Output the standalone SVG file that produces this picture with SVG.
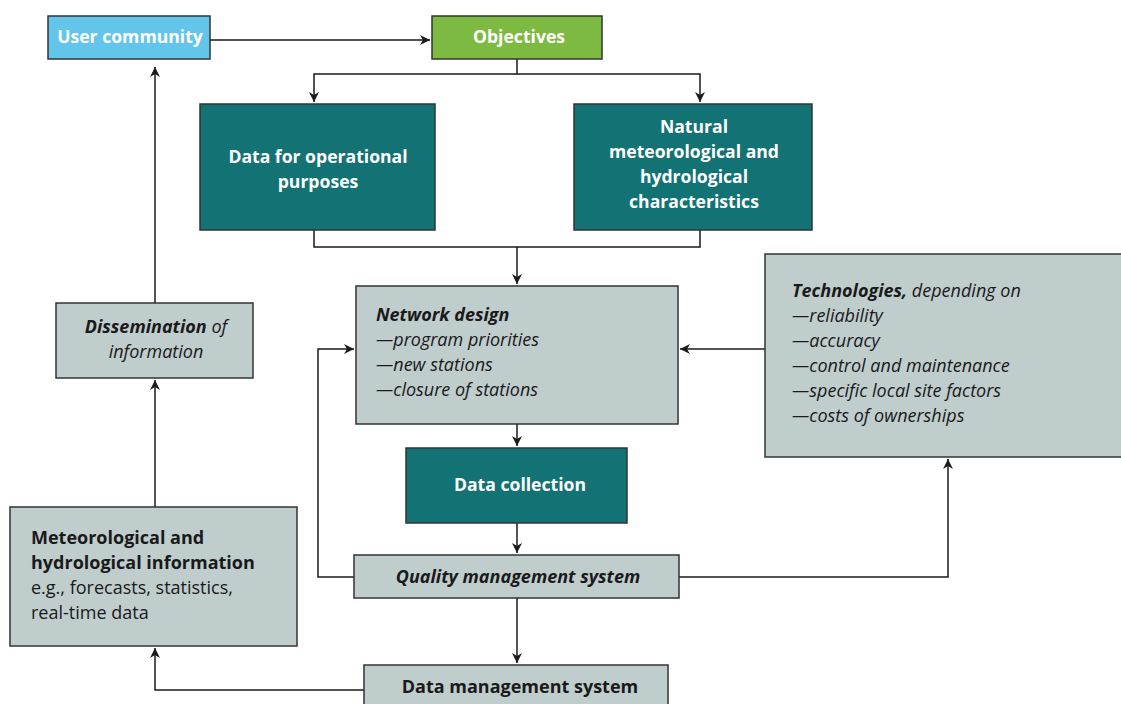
<svg xmlns="http://www.w3.org/2000/svg" width="1121" height="704" viewBox="0 0 1121 704">
<defs>
<marker id="ah" viewBox="0 0 10 10" refX="10" refY="5" markerWidth="10" markerHeight="10" markerUnits="userSpaceOnUse" orient="auto"><path d="M0,0 L10,5 L0,10 L3,5 z" fill="#1a1a1a"/></marker>
<style>
text{font-family:"Open Sans","Noto Sans",sans-serif;font-size:18px;fill:#1a1a1a}
.w{fill:#ffffff;font-weight:bold;font-size:17.6px}
.b{font-weight:bold}
.i{font-style:italic}
.box{stroke:#333333;stroke-width:1.5}
.teal{fill:#137274}
.gray{fill:#c0cdcd}
.conn{fill:none;stroke:#1a1a1a;stroke-width:1.5}
</style>
</defs>
<rect width="1121" height="704" fill="#ffffff"/>
<g id="connectors">
<path class="conn" d="M210,40 H430" marker-end="url(#ah)"/>
<path class="conn" d="M517,59 V74 H314 V102" marker-end="url(#ah)"/>
<path class="conn" d="M517,74 H700 V102" marker-end="url(#ah)"/>
<path class="conn" d="M314,230 V247 H700 V230"/>
<path class="conn" d="M517,247 V284" marker-end="url(#ah)"/>
<path class="conn" d="M765,349 H680" marker-end="url(#ah)"/>
<path class="conn" d="M517,424 V446" marker-end="url(#ah)"/>
<path class="conn" d="M517,523 V553" marker-end="url(#ah)"/>
<path class="conn" d="M354,577 H318 V349 H354" marker-end="url(#ah)"/>
<path class="conn" d="M679,577 H948 V459" marker-end="url(#ah)"/>
<path class="conn" d="M517,598 V663" marker-end="url(#ah)"/>
<path class="conn" d="M364,690 H155 V648" marker-end="url(#ah)"/>
<path class="conn" d="M155,507 V380" marker-end="url(#ah)"/>
<path class="conn" d="M155,303 V67" marker-end="url(#ah)"/>
</g>
<g id="user-community">
<rect class="box" x="48" y="16" width="162" height="43" fill="#63c5ea"/>
<text class="w" x="130" y="43" text-anchor="middle">User community</text>
</g>
<g id="objectives">
<rect class="box" x="432" y="16" width="170" height="43" fill="#7dba41"/>
<text class="w" x="519" y="43" text-anchor="middle">Objectives</text>
</g>
<g id="data-operational">
<rect class="box teal" x="200" y="104" width="235" height="126"/>
<text class="w" x="318" y="163" text-anchor="middle">Data for operational</text>
<text class="w" x="318" y="188" text-anchor="middle">purposes</text>
</g>
<g id="natural-characteristics">
<rect class="box teal" x="574" y="104" width="238" height="126"/>
<text class="w" x="694" y="133" text-anchor="middle">Natural</text>
<text class="w" x="694" y="158" text-anchor="middle">meteorological and</text>
<text class="w" x="694" y="183" text-anchor="middle">hydrological</text>
<text class="w" x="694" y="208" text-anchor="middle">characteristics</text>
</g>
<g id="network-design">
<rect class="box gray" x="356" y="286" width="322" height="138"/>
<text x="376" y="321"><tspan class="b i">Network design</tspan></text>
<text class="i" x="376" y="346">—program priorities</text>
<text class="i" x="376" y="371">—new stations</text>
<text class="i" x="376" y="396">—closure of stations</text>
</g>
<g id="technologies">
<rect class="box gray" x="765" y="254" width="360" height="203"/>
<text x="792" y="297"><tspan class="b i">Technologies,</tspan><tspan class="i"> depending on</tspan></text>
<text class="i" x="792" y="322">—reliability</text>
<text class="i" x="792" y="347">—accuracy</text>
<text class="i" x="792" y="372">—control and maintenance</text>
<text class="i" x="792" y="397">—specific local site factors</text>
<text class="i" x="792" y="422">—costs of ownerships</text>
</g>
<g id="data-collection">
<rect class="box teal" x="406" y="448" width="221" height="75"/>
<text class="w" x="520" y="491" text-anchor="middle">Data collection</text>
</g>
<g id="quality-management">
<rect class="box gray" x="354" y="555" width="325" height="43"/>
<text class="b i" x="518" y="583" text-anchor="middle">Quality management system</text>
</g>
<g id="data-management">
<rect class="box gray" x="364" y="665" width="304" height="45"/>
<text class="b" x="520" y="693" text-anchor="middle">Data management system</text>
</g>
<g id="met-hydro-info">
<rect class="box gray" x="10" y="507" width="287" height="139"/>
<text class="b" x="31" y="544">Meteorological and</text>
<text class="b" x="31" y="569">hydrological information</text>
<text x="31" y="594">e.g., forecasts, statistics,</text>
<text x="31" y="619">real-time data</text>
</g>
<g id="dissemination">
<rect class="box gray" x="56" y="303" width="197" height="75"/>
<text x="156" y="333" text-anchor="middle"><tspan class="b i">Dissemination</tspan><tspan class="i"> of</tspan></text>
<text class="i" x="156" y="358" text-anchor="middle">information</text>
</g>
</svg>
